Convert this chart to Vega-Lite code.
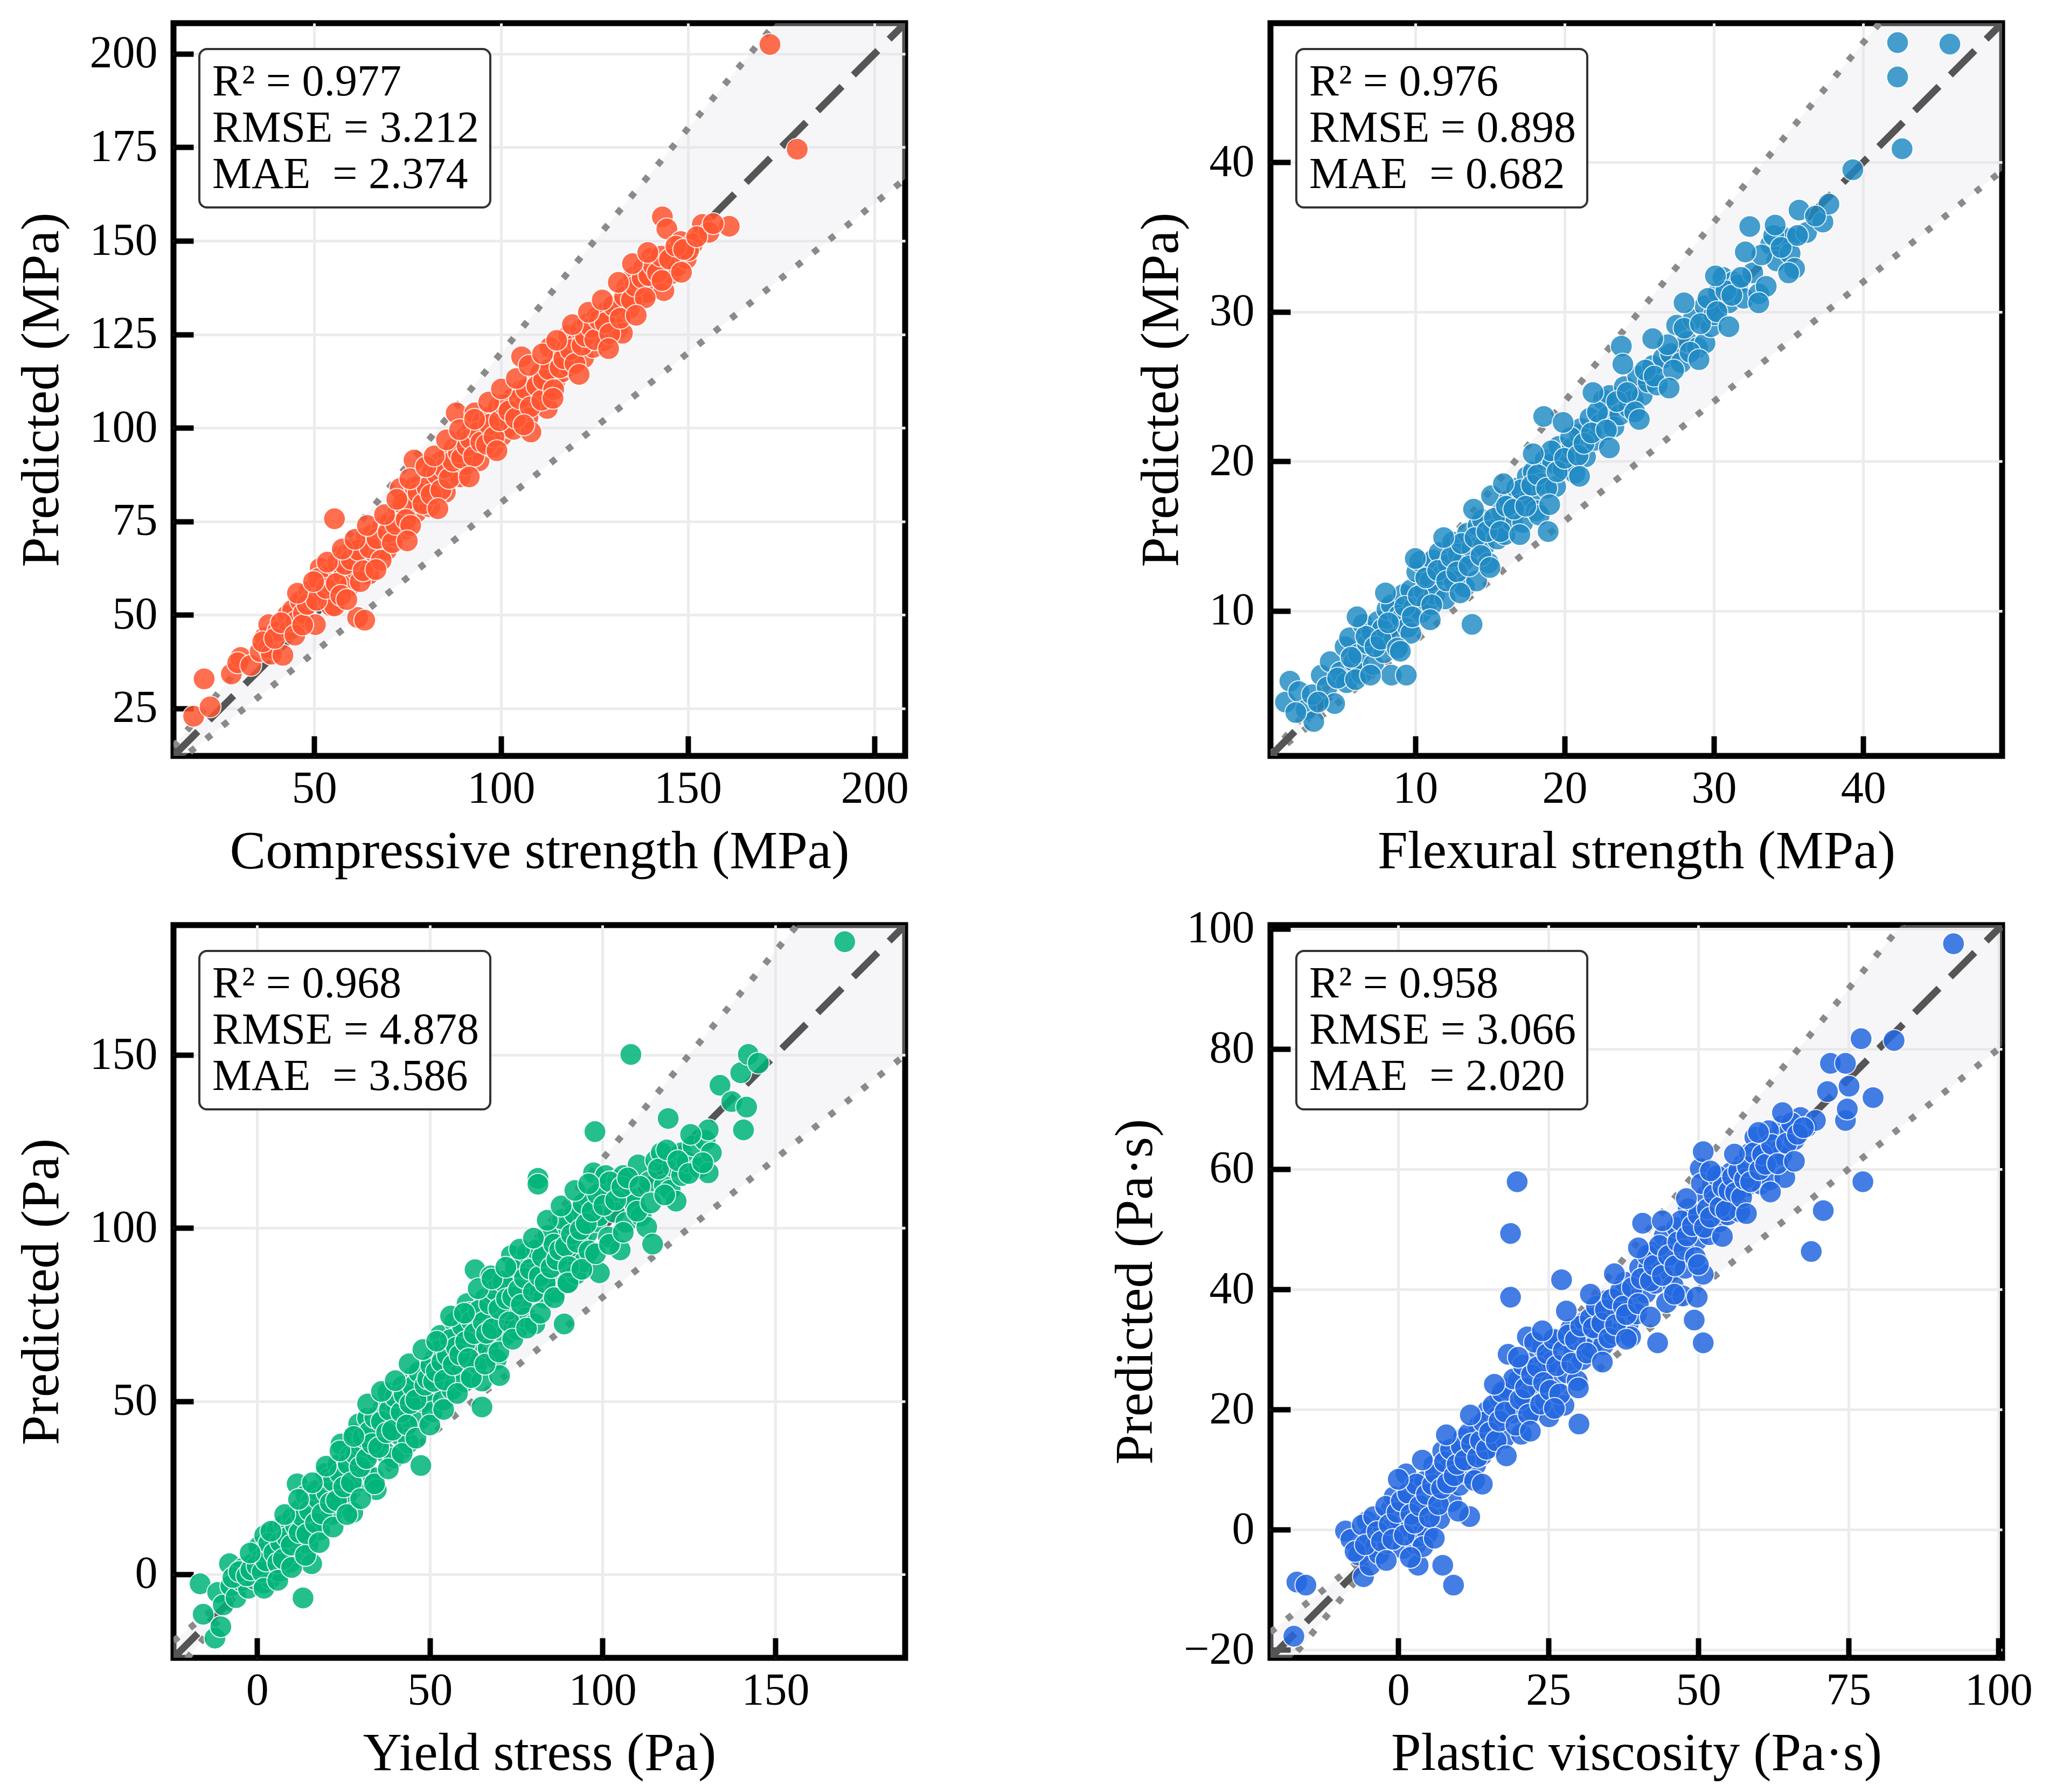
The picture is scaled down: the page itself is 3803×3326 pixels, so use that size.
{
  "$schema": "https://vega.github.io/schema/vega-lite/v6.json",
  "background": "white",
  "padding": {"left": 21, "top": 37, "right": 5, "bottom": 5},
  "columns": 2,
  "spacing": {"row": 40, "column": 360},
  "resolve": {"scale": {"color": "independent"}, "legend": {"color": "independent"}},
  "datasets": {
    "cs": [
      {"a":20.5,"p":32.9},{"a":17.7,"p":22.9},{"a":22.1,"p":25.4},{"a":27.8,"p":34.2},{"a":30.3,"p":38.6},{"a":29.5,"p":37.2},{"a":33,"p":36.5},{"a":35.5,"p":40.2},{"a":36.8,"p":44.1},{"a":37.8,"p":47.4},{"a":37.8,"p":41.1},{"a":38.5,"p":39.5},{"a":40.2,"p":45.6},{"a":41.6,"p":39.2},{"a":42.8,"p":49.9},{"a":43.5,"p":46.1},{"a":44.2,"p":51.3},{"a":45,"p":48.2},{"a":46.3,"p":53.7},{"a":47.1,"p":50.4},{"a":48.5,"p":56.2},{"a":49.2,"p":54.1},{"a":50.3,"p":47.4},{"a":51.6,"p":62.5},{"a":52.4,"p":58.3},{"a":52,"p":55.5},{"a":53.8,"p":60.9},{"a":54.5,"p":52.4},{"a":55.4,"p":75.7},{"a":55.4,"p":52.4},{"a":56.2,"p":63.8},{"a":57.9,"p":60.6},{"a":58.6,"p":66.2},{"a":59.5,"p":57.8},{"a":60.4,"p":67.5},{"a":61.2,"p":62.1},{"a":61.6,"p":49.3},{"a":63.5,"p":48.6},{"a":62.8,"p":64.4},{"a":63.9,"p":70.8},{"a":64.6,"p":60.9},{"a":65.4,"p":71.3},{"a":66.1,"p":66.7},{"a":67.5,"p":69.2},{"a":68.2,"p":73.5},{"a":69.4,"p":67.4},{"a":70.3,"p":74.9},{"a":71.2,"p":71.1},{"a":72.5,"p":77.6},{"a":73,"p":76.3},{"a":73,"p":83.8},{"a":74.2,"p":72.8},{"a":75.1,"p":79.5},{"a":76.7,"p":91.4},{"a":76.4,"p":81.2},{"a":77.3,"p":77.4},{"a":78,"p":80.1},{"a":78.8,"p":85.3},{"a":79.6,"p":82.7},{"a":80.5,"p":86.3},{"a":80.9,"p":78.9},{"a":81.7,"p":88.4},{"a":82.5,"p":84.5},{"a":83.4,"p":90.7},{"a":84.2,"p":86.2},{"a":85.1,"p":82.8},{"a":85.8,"p":92.3},{"a":86.6,"p":88.6},{"a":87.4,"p":94.5},{"a":88,"p":104},{"a":88.3,"p":90.8},{"a":89.1,"p":86.9},{"a":89.7,"p":96.2},{"a":90.5,"p":97.6},{"a":90.5,"p":90.1},{"a":91.3,"p":93.4},{"a":92.2,"p":99.8},{"a":93,"p":104},{"a":93.4,"p":95.1},{"a":94.1,"p":91.2},{"a":95,"p":101.6},{"a":95.5,"p":96.4},{"a":96.3,"p":98.7},{"a":97.1,"p":103.1},{"a":97.8,"p":94.8},{"a":98.6,"p":100.5},{"a":99.3,"p":105.6},{"a":100.5,"p":104},{"a":100.2,"p":97.9},{"a":101.1,"p":102.4},{"a":101.8,"p":100.2},{"a":102.6,"p":107.1},{"a":103,"p":107.7},{"a":103.4,"p":99.6},{"a":104.5,"p":104.8},{"a":105.5,"p":119},{"a":105.2,"p":109.9},{"a":106.3,"p":106.1},{"a":107.2,"p":102.7},{"a":108,"p":98.9},{"a":108.4,"p":111.8},{"a":109.1,"p":108.3},{"a":110.2,"p":113.7},{"a":110.6,"p":114.6},{"a":111.8,"p":109},{"a":112.4,"p":105.2},{"a":113.1,"p":121.5},{"a":113.6,"p":116.2},{"a":114.5,"p":112.6},{"a":115.3,"p":118.4},{"a":116.2,"p":114.9},{"a":117.4,"p":120.8},{"a":118.1,"p":124.7},{"a":118.1,"p":116.5},{"a":119.2,"p":119.3},{"a":120.4,"p":122.9},{"a":121.3,"p":126.1},{"a":122.1,"p":118.7},{"a":123.1,"p":127.8},{"a":123.8,"p":124.2},{"a":124.7,"p":121.5},{"a":125.6,"p":129.6},{"a":126.9,"p":126.5},{"a":127.5,"p":123.3},{"a":128.4,"p":131.2},{"a":129.6,"p":127.9},{"a":130.6,"p":130.3},{"a":131.2,"p":126.4},{"a":132.5,"p":125.3},{"a":132.8,"p":133.8},{"a":133.6,"p":137.5},{"a":134.4,"p":131.9},{"a":135.5,"p":140.3},{"a":136.9,"p":135.3},{"a":137.2,"p":138.6},{"a":138.1,"p":142.7},{"a":139,"p":136.1},{"a":140.2,"p":145.4},{"a":141.1,"p":139.2},{"a":142.3,"p":143.8},{"a":143.2,"p":156.4},{"a":143.6,"p":136.7},{"a":144.4,"p":153.2},{"a":144.4,"p":143.5},{"a":145.5,"p":141.2},{"a":146.3,"p":146.6},{"a":147.1,"p":143.1},{"a":148.2,"p":149.8},{"a":149.6,"p":145.2},{"a":151.3,"p":149.2},{"a":150.2,"p":147.4},{"a":153.9,"p":154.4},{"a":155.7,"p":152.3},{"a":161.1,"p":153.9},{"a":172,"p":202.5},{"a":179.3,"p":174.5},
      {"a":36.2,"p":42.8},{"a":39.4,"p":43.7},{"a":41.1,"p":47.9},{"a":44.8,"p":44.6},{"a":46.9,"p":47.3},{"a":48.1,"p":52.8},{"a":50.6,"p":53.9},{"a":51.1,"p":59.7},{"a":53.2,"p":57.1},{"a":55.9,"p":58.4},{"a":57.1,"p":55.2},{"a":58.2,"p":63.5},{"a":59.9,"p":64.8},{"a":61.8,"p":67.3},{"a":62.3,"p":58.9},{"a":63.1,"p":61.8},{"a":64.9,"p":67.9},{"a":66.8,"p":70.4},{"a":67.9,"p":64.6},{"a":69.8,"p":72.1},{"a":70.9,"p":69.3},{"a":71.8,"p":74.2},{"a":73.7,"p":79.8},{"a":74.6,"p":75.5},{"a":75.8,"p":73.9},{"a":76.9,"p":84.2},{"a":77.8,"p":82.6},{"a":79.1,"p":79.7},{"a":80.2,"p":84.1},{"a":81.3,"p":82.2},{"a":82.9,"p":87.6},{"a":83.9,"p":83.4},{"a":84.8,"p":89.3},{"a":86.1,"p":86.5},{"a":87.1,"p":91.1},{"a":88.6,"p":93.4},{"a":89.4,"p":91.9},{"a":90.9,"p":95.2},{"a":91.8,"p":97.1},{"a":92.7,"p":92.4},{"a":93.8,"p":98.9},{"a":94.6,"p":96.2},{"a":96.1,"p":95.6},{"a":96.8,"p":100.9},{"a":98.1,"p":97.6},{"a":99.6,"p":101.9},{"a":100.8,"p":106.2},{"a":102.1,"p":104.5},{"a":103.9,"p":102.6},{"a":104.9,"p":107.8},{"a":106.7,"p":110.4},{"a":107.8,"p":105.6},{"a":109.6,"p":111.2},{"a":110.9,"p":107.4},{"a":111.4,"p":112.9},{"a":112.8,"p":115.6},{"a":114.1,"p":110.2},{"a":115.8,"p":116.1},{"a":116.8,"p":118.5},{"a":118.6,"p":120.9},{"a":119.8,"p":117.2},{"a":121.7,"p":122.1},{"a":122.6,"p":124.5},{"a":124.2,"p":126.8},{"a":125.1,"p":123.6},{"a":126.3,"p":128.9},{"a":127.9,"p":128.1},{"a":129.1,"p":125.2},{"a":130.1,"p":132.6},{"a":131.9,"p":129.3},{"a":133.1,"p":135.1},{"a":134.9,"p":134.2},{"a":135.9,"p":137.9},{"a":137.8,"p":140.1},{"a":138.6,"p":134.8},{"a":139.6,"p":140.7},{"a":140.8,"p":143.4},{"a":141.9,"p":141.5},{"a":142.8,"p":145.9},{"a":145.1,"p":145.1},{"a":146.8,"p":148.6},{"a":148.9,"p":147.7},{"a":152.4,"p":151.1},{"a":156.8,"p":154.6},
      {"a":45.5,"p":55.8},{"a":49.8,"p":58.9},{"a":53.5,"p":64.1},{"a":57.5,"p":67.6},{"a":60.9,"p":70.2},{"a":64.2,"p":73.9},{"a":68.8,"p":76.8},{"a":72.1,"p":80.9},{"a":75.6,"p":86.4},{"a":79.9,"p":89.6},{"a":82.1,"p":92.5},{"a":85.4,"p":96.8},{"a":88.9,"p":99.5},{"a":92.9,"p":102.3},{"a":96.7,"p":106.9},{"a":100.1,"p":110.4},{"a":104.1,"p":113.2},{"a":107.5,"p":116.7},{"a":111.1,"p":119.8},{"a":114.9,"p":123.4},{"a":119.1,"p":127.6},{"a":123.4,"p":130.9},{"a":127.1,"p":134.2},{"a":131.4,"p":138.9},{"a":135.2,"p":143.9},{"a":139.3,"p":146.9},{"a":58.7,"p":54.1},{"a":66.5,"p":62.1},{"a":74.9,"p":69.8},{"a":83.1,"p":78.4},{"a":91.5,"p":86.9},{"a":98.9,"p":93.9},{"a":106.1,"p":100.8},{"a":113.9,"p":107.9},{"a":120.9,"p":114.3},{"a":128.8,"p":121.2},{"a":136.2,"p":130.1},{"a":143.1,"p":139.4},{"a":148.3,"p":141.6}
    ],
    "fs": [
      {"a":1.3,"p":3.9},{"a":1.6,"p":5.3},{"a":2.2,"p":4.6},{"a":2.7,"p":3.4},{"a":3.2,"p":2.6},{"a":3.1,"p":4.4},{"a":3.7,"p":5.7},{"a":4.1,"p":4.9},{"a":4.3,"p":6.6},{"a":4.6,"p":3.8},{"a":5.0,"p":5.9},{"a":5.3,"p":7.6},{"a":5.4,"p":5.2},{"a":5.6,"p":8.2},{"a":5.9,"p":6.6},{"a":6.2,"p":7.1},{"a":6.5,"p":9.1},{"a":6.4,"p":5.8},{"a":6.8,"p":7.8},{"a":7.1,"p":8.6},{"a":7.2,"p":6.4},{"a":7.5,"p":9.3},{"a":7.8,"p":8.8},{"a":7.9,"p":7.2},{"a":8.1,"p":10.1},{"a":8.4,"p":10.4},{"a":8.4,"p":5.7},{"a":8.6,"p":8.1},{"a":8.9,"p":9.7},{"a":9.1,"p":9.5},{"a":9.2,"p":11.1},{"a":9.4,"p":5.7},{"a":9.5,"p":8.9},{"a":9.7,"p":11.4},{"a":9.7,"p":8.5},{"a":9.9,"p":10.2},{"a":10.1,"p":12.6},{"a":10.3,"p":13.3},{"a":10.4,"p":9.9},{"a":10.6,"p":11.3},{"a":10.8,"p":10.5},{"a":11.0,"p":12.0},{"a":11.2,"p":13.4},{"a":11.3,"p":11.1},{"a":11.6,"p":13.9},{"a":11.8,"p":12.4},{"a":12.0,"p":10.8},{"a":12.2,"p":13.1},{"a":12.5,"p":14.6},{"a":12.6,"p":12.0},{"a":12.9,"p":13.8},{"a":13.2,"p":13.3},{"a":13.3,"p":11.6},{"a":13.5,"p":15.2},{"a":13.8,"p":9.1},{"a":13.8,"p":14.2},{"a":14.1,"p":12.0},{"a":14.2,"p":15.7},{"a":14.5,"p":16.1},{"a":14.6,"p":14.3},{"a":14.9,"p":13.2},{"a":15.1,"p":17.7},{"a":15.2,"p":15.4},{"a":15.5,"p":14.8},{"a":15.8,"p":16.6},{"a":16.0,"p":15.1},{"a":16.3,"p":17.4},{"a":16.5,"p":16.0},{"a":16.8,"p":18.2},{"a":17.0,"p":17.1},{"a":17.2,"p":15.9},{"a":17.5,"p":19.0},{"a":17.7,"p":17.6},{"a":17.9,"p":19.3},{"a":18.1,"p":16.7},{"a":18.3,"p":16.4},{"a":18.4,"p":18.5},{"a":18.6,"p":23.0},{"a":18.7,"p":20.1},{"a":18.9,"p":15.3},{"a":19.2,"p":19.9},{"a":19.4,"p":18.3},{"a":19.6,"p":21.0},{"a":19.9,"p":19.5},{"a":20.2,"p":20.6},{"a":20.5,"p":20.9},{"a":20.7,"p":19.2},{"a":21.0,"p":21.8},{"a":21.1,"p":22.2},{"a":21.4,"p":20.3},{"a":21.7,"p":22.9},{"a":22.0,"p":21.4},{"a":22.4,"p":22.5},{"a":22.6,"p":24.1},{"a":22.9,"p":23.0},{"a":23.0,"p":24.4},{"a":23.3,"p":22.3},{"a":23.7,"p":23.1},{"a":23.8,"p":27.7},{"a":24.0,"p":25.0},{"a":24.3,"p":23.6},{"a":24.6,"p":24.1},{"a":24.9,"p":25.7},{"a":25.2,"p":24.4},{"a":25.6,"p":25.3},{"a":25.9,"p":26.4},{"a":26.2,"p":25.1},{"a":26.6,"p":26.9},{"a":27.1,"p":27.2},{"a":27.5,"p":29.1},{"a":27.8,"p":26.6},{"a":28.2,"p":28.0},{"a":28.6,"p":29.5},{"a":28.9,"p":27.6},{"a":29.4,"p":30.4},{"a":29.4,"p":27.9},{"a":29.8,"p":29.0},{"a":30.0,"p":29.8},{"a":30.3,"p":31.3},{"a":30.6,"p":32.3},{"a":31.0,"p":30.6},{"a":31.3,"p":32.0},{"a":31.6,"p":31.8},{"a":32.0,"p":30.9},{"a":32.4,"p":35.7},{"a":32.6,"p":32.6},{"a":33.0,"p":31.2},{"a":33.5,"p":31.7},{"a":33.8,"p":34.5},{"a":34.2,"p":33.4},{"a":34.7,"p":35.0},{"a":35.1,"p":34.9},{"a":35.1,"p":33.9},{"a":35.4,"p":32.9},{"a":35.7,"p":36.8},{"a":36.2,"p":35.3},{"a":37.3,"p":36.0},{"a":37.7,"p":37.2},{"a":39.3,"p":39.5},{"a":42.3,"p":48.0},{"a":45.8,"p":47.9},{"a":42.3,"p":45.7},{"a":42.6,"p":40.9},
      {"a":2.0,"p":3.2},{"a":3.5,"p":3.9},{"a":4.8,"p":5.5},{"a":5.7,"p":6.9},{"a":6.0,"p":5.4},{"a":6.7,"p":8.3},{"a":7.3,"p":7.6},{"a":7.7,"p":8.1},{"a":8.2,"p":9.2},{"a":8.8,"p":7.5},{"a":9.3,"p":10.3},{"a":9.8,"p":9.6},{"a":10.2,"p":11.0},{"a":10.7,"p":12.2},{"a":11.1,"p":10.4},{"a":11.5,"p":12.7},{"a":12.1,"p":12.0},{"a":12.4,"p":13.6},{"a":12.8,"p":12.6},{"a":13.1,"p":14.5},{"a":13.6,"p":13.0},{"a":14.0,"p":14.9},{"a":14.4,"p":13.7},{"a":14.8,"p":15.3},{"a":15.3,"p":16.2},{"a":15.7,"p":15.3},{"a":16.1,"p":17.0},{"a":16.6,"p":16.8},{"a":17.1,"p":18.1},{"a":17.4,"p":17.0},{"a":17.8,"p":18.4},{"a":18.2,"p":19.1},{"a":18.8,"p":18.2},{"a":19.1,"p":20.7},{"a":19.5,"p":19.3},{"a":20.0,"p":20.2},{"a":20.4,"p":21.6},{"a":20.9,"p":20.4},{"a":21.3,"p":21.2},{"a":21.8,"p":21.9},{"a":22.2,"p":23.3},{"a":22.8,"p":22.1},{"a":23.5,"p":24.0},{"a":24.2,"p":24.6},{"a":24.7,"p":23.3},{"a":25.4,"p":26.1},{"a":26.0,"p":25.7},{"a":26.9,"p":27.8},{"a":27.3,"p":26.1},{"a":28.0,"p":28.9},{"a":28.4,"p":27.3},{"a":29.1,"p":29.2},{"a":29.6,"p":30.9},{"a":30.2,"p":30.0},{"a":30.8,"p":31.4},{"a":31.2,"p":31.1},{"a":31.8,"p":32.3},{"a":33.2,"p":33.8},{"a":34.0,"p":35.1},{"a":34.5,"p":34.3},{"a":35.6,"p":35.1},{"a":36.8,"p":36.4},
      {"a":6.1,"p":9.6},{"a":8.0,"p":11.2},{"a":10.0,"p":13.5},{"a":11.9,"p":14.9},{"a":13.9,"p":16.8},{"a":15.9,"p":18.5},{"a":17.9,"p":20.5},{"a":19.9,"p":22.6},{"a":21.9,"p":24.6},{"a":23.9,"p":26.5},{"a":25.9,"p":28.2},{"a":28.0,"p":30.6},{"a":30.1,"p":32.4},{"a":32.1,"p":34.0},{"a":34.1,"p":35.8},{"a":7.0,"p":5.7},{"a":9.0,"p":7.3},{"a":11.0,"p":9.4},{"a":13.0,"p":11.2},{"a":15.0,"p":12.9},{"a":17.0,"p":15.1},{"a":19.0,"p":17.1},{"a":21.0,"p":19.0},{"a":23.0,"p":20.9},{"a":25.0,"p":22.8},{"a":27.0,"p":24.9},{"a":29.0,"p":26.8},{"a":31.0,"p":29.0},{"a":33.0,"p":30.6},{"a":35.0,"p":32.6}
    ],
    "ys": [
      {"a":-16.5,"p":-2.8},{"a":-15.6,"p":-11.6},{"a":-12.2,"p":-18.5},{"a":-11.4,"p":-5.3},{"a":-10.5,"p":-15.2},{"a":-9.8,"p":-8.9},{"a":-8.0,"p":3.0},{"a":-7.6,"p":-3.4},{"a":-6.1,"p":-6.8},{"a":-4.6,"p":-2.0},{"a":-3.9,"p":1.8},{"a":-2.5,"p":-4.1},{"a":-1.2,"p":3.0},{"a":-0.6,"p":-1.5},{"a":0.5,"p":7.9},{"a":1.1,"p":4.2},{"a":1.8,"p":-2.6},{"a":2.2,"p":11.2},{"a":2.9,"p":6.5},{"a":3.9,"p":-1.2},{"a":4.4,"p":2.9},{"a":5.2,"p":9.7},{"a":5.8,"p":12.8},{"a":6.5,"p":0.8},{"a":7.1,"p":5.6},{"a":7.8,"p":14.3},{"a":8.3,"p":8.1},{"a":9.0,"p":12.9},{"a":9.6,"p":3.4},{"a":10.2,"p":16.2},{"a":10.7,"p":6.3},{"a":11.6,"p":26.1},{"a":11.9,"p":10.4},{"a":12.5,"p":18.7},{"a":13.3,"p":-6.9},{"a":13.7,"p":13.5},{"a":14.1,"p":22.8},{"a":14.8,"p":8.6},{"a":15.8,"p":3.0},{"a":15.8,"p":21.1},{"a":16.4,"p":16.9},{"a":17.3,"p":24.3},{"a":18.1,"p":12.7},{"a":19.2,"p":19.5},{"a":19.9,"p":29.1},{"a":20.9,"p":27.7},{"a":21.6,"p":17.2},{"a":22.5,"p":23.8},{"a":23.4,"p":31.6},{"a":24.3,"p":37.6},{"a":24.8,"p":20.4},{"a":25.6,"p":28.8},{"a":26.0,"p":22.8},{"a":26.9,"p":34.1},{"a":27.7,"p":17.8},{"a":28.3,"p":40.5},{"a":28.9,"p":26.7},{"a":29.4,"p":43.4},{"a":30.2,"p":33.2},{"a":31.1,"p":37.6},{"a":31.1,"p":29.4},{"a":32.0,"p":45.1},{"a":32.8,"p":35.8},{"a":33.7,"p":27.9},{"a":34.5,"p":42.6},{"a":34.5,"p":24.4},{"a":35.6,"p":39.1},{"a":36.4,"p":47.8},{"a":37.1,"p":35.1},{"a":37.9,"p":52.5},{"a":38.7,"p":43.9},{"a":39.6,"p":33.6},{"a":40.4,"p":48.6},{"a":41.3,"p":40.2},{"a":42.1,"p":54.3},{"a":43.0,"p":45.4},{"a":43.8,"p":37.9},{"a":44.7,"p":51.2},{"a":45.5,"p":57.3},{"a":46.4,"p":55.8},{"a":47.1,"p":44.6},{"a":47.4,"p":31.4},{"a":48.2,"p":49.8},{"a":49.0,"p":59.6},{"a":49.8,"p":52.5},{"a":50.7,"p":46.9},{"a":51.5,"p":62.4},{"a":52.2,"p":55.1},{"a":53.0,"p":69.0},{"a":53.9,"p":50.3},{"a":54.7,"p":58.7},{"a":55.5,"p":65.2},{"a":56.4,"p":53.4},{"a":57.2,"p":72.8},{"a":58.3,"p":69.0},{"a":58.3,"p":59.1},{"a":59.1,"p":62.7},{"a":60.0,"p":55.6},{"a":60.8,"p":78.2},{"a":61.7,"p":75.6},{"a":62.5,"p":66.4},{"a":63.1,"p":88.0},{"a":63.8,"p":60.9},{"a":64.6,"p":71.5},{"a":65.1,"p":55.8},{"a":65.1,"p":48.3},{"a":66.0,"p":79.6},{"a":66.9,"p":65.4},{"a":67.7,"p":86.2},{"a":68.5,"p":73.4},{"a":69.3,"p":62.1},{"a":70.2,"p":57.4},{"a":70.8,"p":80.8},{"a":71.9,"p":69.0},{"a":72.6,"p":76.5},{"a":73.6,"p":92.1},{"a":74.4,"p":84.7},{"a":75.3,"p":70.6},{"a":76.1,"p":88.3},{"a":77.0,"p":79.1},{"a":77.8,"p":74.2},{"a":78.7,"p":91.6},{"a":79.5,"p":83.5},{"a":80.4,"p":72.3},{"a":81.3,"p":114.4},{"a":81.3,"p":112.7},{"a":82.1,"p":88.8},{"a":83.0,"p":79.8},{"a":83.8,"p":95.1},{"a":84.6,"p":85.9},{"a":85.5,"p":92.1},{"a":86.3,"p":81.4},{"a":87.2,"p":99.4},{"a":88.0,"p":89.6},{"a":88.9,"p":97.0},{"a":88.9,"p":72.3},{"a":89.7,"p":84.2},{"a":90.6,"p":101.3},{"a":91.4,"p":93.5},{"a":92.3,"p":86.7},{"a":93.1,"p":104.8},{"a":94.0,"p":96.9},{"a":94.8,"p":90.3},{"a":95.7,"p":98.7},{"a":96.5,"p":108.6},{"a":97.4,"p":116.0},{"a":97.8,"p":127.9},{"a":98.2,"p":101.9},{"a":99.1,"p":103.6},{"a":99.1,"p":87.1},{"a":99.9,"p":111.3},{"a":100.9,"p":115.2},{"a":101.7,"p":97.4},{"a":102.6,"p":110.2},{"a":103.4,"p":104.6},{"a":104.3,"p":113.8},{"a":105.1,"p":93.7},{"a":106.0,"p":115.2},{"a":106.8,"p":101.7},{"a":107.7,"p":108.9},{"a":108.2,"p":150.2},{"a":109.4,"p":106.9},{"a":110.3,"p":118.3},{"a":111.2,"p":103.5},{"a":112.8,"p":100.3},{"a":113.6,"p":113.5},{"a":114.5,"p":95.4},{"a":115.4,"p":119.6},{"a":117.0,"p":121.8},{"a":117.9,"p":112.4},{"a":119.0,"p":131.7},{"a":119.6,"p":111.0},{"a":120.4,"p":117.8},{"a":121.3,"p":107.8},{"a":122.9,"p":121.8},{"a":122.9,"p":115.2},{"a":124.5,"p":119.1},{"a":126.2,"p":123.8},{"a":128.0,"p":117.5},{"a":129.7,"p":125.4},{"a":130.6,"p":128.4},{"a":131.5,"p":121.8},{"a":130.6,"p":116.0},{"a":134.0,"p":141.3},{"a":137.4,"p":136.6},{"a":140.0,"p":144.9},{"a":140.8,"p":128.4},{"a":141.7,"p":135.0},{"a":142.2,"p":150.2},{"a":145.1,"p":147.7},{"a":170.1,"p":182.8},
      {"a":-7.0,"p":-1.0},{"a":-5.2,"p":0.7},{"a":-3.0,"p":-0.5},{"a":-1.8,"p":1.2},{"a":0.0,"p":2.4},{"a":1.5,"p":0.6},{"a":2.6,"p":3.8},{"a":3.4,"p":8.9},{"a":4.9,"p":6.1},{"a":6.0,"p":3.2},{"a":6.8,"p":9.2},{"a":7.6,"p":4.4},{"a":8.7,"p":10.6},{"a":9.9,"p":8.4},{"a":11.1,"p":14.1},{"a":12.2,"p":12.0},{"a":13.0,"p":16.8},{"a":14.4,"p":11.6},{"a":15.2,"p":18.3},{"a":16.9,"p":14.8},{"a":17.8,"p":21.7},{"a":18.8,"p":17.4},{"a":20.2,"p":23.6},{"a":21.2,"p":20.6},{"a":22.0,"p":26.9},{"a":23.0,"p":21.3},{"a":24.0,"p":29.1},{"a":25.1,"p":25.2},{"a":26.4,"p":31.8},{"a":27.3,"p":26.5},{"a":28.6,"p":34.5},{"a":29.8,"p":31.0},{"a":30.7,"p":39.6},{"a":31.7,"p":33.4},{"a":32.5,"p":41.2},{"a":33.3,"p":37.7},{"a":34.1,"p":45.2},{"a":35.2,"p":36.6},{"a":36.0,"p":44.1},{"a":37.5,"p":40.9},{"a":38.3,"p":47.4},{"a":39.2,"p":41.6},{"a":40.0,"p":51.2},{"a":41.7,"p":46.8},{"a":42.6,"p":51.9},{"a":43.4,"p":43.1},{"a":44.3,"p":49.3},{"a":45.1,"p":54.2},{"a":46.0,"p":50.4},{"a":46.8,"p":58.4},{"a":48.6,"p":54.6},{"a":49.4,"p":56.5},{"a":50.3,"p":60.3},{"a":51.1,"p":55.7},{"a":51.9,"p":58.6},{"a":52.6,"p":64.6},{"a":53.5,"p":61.3},{"a":54.3,"p":56.1},{"a":55.1,"p":63.2},{"a":56.0,"p":67.8},{"a":56.8,"p":60.5},{"a":57.7,"p":65.6},{"a":58.7,"p":63.4},{"a":59.5,"p":71.6},{"a":60.4,"p":67.2},{"a":61.2,"p":62.3},{"a":62.1,"p":73.1},{"a":62.9,"p":69.5},{"a":64.2,"p":76.2},{"a":65.5,"p":72.8},{"a":66.4,"p":69.6},{"a":67.3,"p":78.1},{"a":68.1,"p":70.9},{"a":68.9,"p":82.1},{"a":70.0,"p":76.7},{"a":71.1,"p":84.6},{"a":72.2,"p":79.6},{"a":73.0,"p":72.9},{"a":74.0,"p":80.1},{"a":74.8,"p":88.8},{"a":75.7,"p":82.2},{"a":76.5,"p":77.9},{"a":77.4,"p":85.6},{"a":78.2,"p":92.8},{"a":79.1,"p":88.1},{"a":80.0,"p":81.6},{"a":80.9,"p":93.8},{"a":81.7,"p":86.1},{"a":82.6,"p":91.7},{"a":83.4,"p":84.2},{"a":84.2,"p":97.9},{"a":85.1,"p":88.6},{"a":85.9,"p":95.4},{"a":86.8,"p":90.9},{"a":87.6,"p":93.7},{"a":88.4,"p":102.6},{"a":89.3,"p":94.8},{"a":90.2,"p":88.9},{"a":91.0,"p":98.2},{"a":91.9,"p":104.2},{"a":92.7,"p":95.9},{"a":93.6,"p":99.6},{"a":94.4,"p":107.1},{"a":95.3,"p":101.3},{"a":96.1,"p":93.4},{"a":97.0,"p":104.9},{"a":98.6,"p":109.8},{"a":100.4,"p":106.6},{"a":102.1,"p":113.4},{"a":103.8,"p":108.1},{"a":105.6,"p":111.9},{"a":107.3,"p":114.5},{"a":110.8,"p":112.1},{"a":116.2,"p":117.1},{"a":118.6,"p":122.6},{"a":121.8,"p":119.5},{"a":125.5,"p":127.1},
      {"a":-2.0,"p":6.1},{"a":4.0,"p":12.4},{"a":8.0,"p":17.2},{"a":12.0,"p":21.6},{"a":16.0,"p":26.4},{"a":20.0,"p":31.2},{"a":24.0,"p":35.6},{"a":28.0,"p":39.8},{"a":32.0,"p":49.2},{"a":36.0,"p":52.8},{"a":40.0,"p":55.9},{"a":44.0,"p":60.8},{"a":48.0,"p":64.9},{"a":52.0,"p":67.3},{"a":56.0,"p":74.6},{"a":60.0,"p":75.4},{"a":64.0,"p":82.5},{"a":68.0,"p":85.3},{"a":72.0,"p":88.7},{"a":76.0,"p":93.9},{"a":80.0,"p":97.1},{"a":84.0,"p":102.3},{"a":88.0,"p":106.4},{"a":92.0,"p":110.9},{"a":96.0,"p":112.8},{"a":2.0,"p":-4.1},{"a":6.0,"p":-1.8},{"a":10.0,"p":1.9},{"a":14.0,"p":5.4},{"a":18.0,"p":9.1},{"a":22.0,"p":13.6},{"a":26.0,"p":17.2},{"a":30.0,"p":21.8},{"a":34.0,"p":26.1},{"a":38.0,"p":30.4},{"a":42.0,"p":34.9},{"a":46.0,"p":39.3},{"a":50.0,"p":43.1},{"a":54.0,"p":47.6},{"a":58.0,"p":52.2},{"a":62.0,"p":56.8},{"a":66.0,"p":60.7},{"a":70.0,"p":64.2},{"a":74.0,"p":67.9},{"a":78.0,"p":71.1},{"a":82.0,"p":75.4},{"a":86.0,"p":79.9},{"a":90.0,"p":84.2},{"a":94.0,"p":88.1},{"a":98.0,"p":92.6},{"a":102.0,"p":95.3},{"a":106.0,"p":98.8},{"a":110.0,"p":104.9},{"a":114.0,"p":107.3},{"a":118.0,"p":109.6},{"a":125.0,"p":115.8},{"a":129.0,"p":118.9}
    ],
    "pv": [
      {"a":-17.4,"p":-17.7},{"a":-16.9,"p":-8.7},{"a":-15.4,"p":-9.2},{"a":-8.8,"p":-0.2},{"a":-7.9,"p":-1.6},{"a":-6.6,"p":-4.2},{"a":-5.8,"p":-7.8},{"a":-5.2,"p":1.4},{"a":-4.7,"p":-1.1},{"a":-4.7,"p":-5.9},{"a":-3.8,"p":-2.9},{"a":-3.2,"p":-4.0},{"a":-2.5,"p":0.6},{"a":-1.8,"p":-2.2},{"a":-1.2,"p":3.4},{"a":-0.7,"p":5.5},{"a":-0.3,"p":-0.8},{"a":0.3,"p":1.7},{"a":0.8,"p":-3.1},{"a":1.3,"p":9.3},{"a":1.3,"p":3.6},{"a":1.9,"p":0.4},{"a":2.4,"p":6.8},{"a":2.9,"p":-2.4},{"a":3.3,"p":5.5},{"a":3.3,"p":-1.1},{"a":3.3,"p":-5.9},{"a":3.8,"p":2.3},{"a":4.4,"p":8.1},{"a":4.9,"p":-0.6},{"a":5.5,"p":4.3},{"a":5.9,"p":10.7},{"a":6.4,"p":6.5},{"a":6.9,"p":1.8},{"a":7.4,"p":13.1},{"a":7.4,"p":-5.9},{"a":7.9,"p":8.6},{"a":8.4,"p":10.2},{"a":8.9,"p":4.7},{"a":9.2,"p":-9.2},{"a":9.6,"p":12.0},{"a":10.2,"p":7.4},{"a":10.8,"p":15.2},{"a":11.4,"p":9.3},{"a":11.9,"p":2.2},{"a":12.4,"p":13.1},{"a":12.9,"p":10.8},{"a":13.4,"p":17.3},{"a":13.9,"p":12.4},{"a":14.4,"p":15.0},{"a":14.9,"p":19.8},{"a":15.5,"p":13.7},{"a":16.0,"p":16.9},{"a":16.5,"p":18.8},{"a":17.0,"p":21.9},{"a":17.6,"p":15.2},{"a":18.1,"p":23.5},{"a":18.3,"p":29.2},{"a":18.7,"p":49.3},{"a":18.7,"p":38.7},{"a":18.9,"p":19.4},{"a":19.5,"p":20.7},{"a":19.8,"p":57.9},{"a":20.0,"p":24.8},{"a":20.5,"p":15.9},{"a":21.0,"p":22.1},{"a":21.5,"p":32.1},{"a":21.9,"p":26.3},{"a":22.4,"p":19.6},{"a":22.9,"p":28.2},{"a":23.4,"p":23.7},{"a":24.0,"p":30.4},{"a":24.5,"p":26.4},{"a":24.5,"p":21.6},{"a":25.1,"p":18.8},{"a":25.6,"p":27.9},{"a":26.2,"p":24.2},{"a":26.7,"p":31.5},{"a":27.2,"p":41.6},{"a":27.6,"p":20.7},{"a":28.1,"p":26.1},{"a":28.7,"p":33.4},{"a":29.2,"p":29.7},{"a":29.8,"p":24.8},{"a":30.1,"p":17.6},{"a":30.6,"p":28.3},{"a":31.1,"p":34.6},{"a":31.6,"p":32.1},{"a":32.2,"p":30.2},{"a":32.8,"p":36.1},{"a":33.3,"p":33.1},{"a":33.6,"p":35.9},{"a":34.2,"p":30.8},{"a":34.8,"p":38.2},{"a":35.3,"p":35.0},{"a":35.9,"p":32.6},{"a":36.7,"p":38.7},{"a":37.2,"p":36.1},{"a":37.8,"p":41.2},{"a":38.3,"p":34.2},{"a":38.7,"p":32.1},{"a":39.3,"p":38.3},{"a":39.7,"p":35.9},{"a":40.2,"p":43.6},{"a":40.7,"p":51.0},{"a":41.2,"p":39.4},{"a":41.7,"p":43.5},{"a":42.3,"p":46.2},{"a":42.8,"p":41.0},{"a":43.2,"p":31.1},{"a":43.8,"p":44.8},{"a":44.3,"p":48.9},{"a":44.7,"p":37.8},{"a":45.3,"p":42.9},{"a":45.8,"p":47.2},{"a":45.8,"p":40.6},{"a":46.4,"p":50.3},{"a":46.9,"p":45.1},{"a":47.4,"p":38.9},{"a":47.8,"p":43.5},{"a":48.3,"p":53.4},{"a":48.8,"p":52.0},{"a":49.3,"p":34.9},{"a":49.8,"p":38.7},{"a":49.8,"p":48.2},{"a":50.3,"p":60.1},{"a":50.8,"p":62.9},{"a":50.8,"p":42.5},{"a":50.8,"p":31.1},{"a":51.3,"p":55.6},{"a":51.8,"p":49.1},{"a":52.3,"p":57.3},{"a":52.8,"p":54.8},{"a":53.4,"p":51.2},{"a":53.9,"p":58.6},{"a":54.4,"p":55.0},{"a":54.9,"p":52.4},{"a":55.4,"p":59.4},{"a":55.9,"p":57.7},{"a":56.4,"p":54.0},{"a":56.9,"p":52.9},{"a":57.4,"p":60.8},{"a":57.9,"p":57.1},{"a":58.5,"p":62.6},{"a":59.0,"p":59.3},{"a":59.4,"p":65.3},{"a":59.9,"p":61.4},{"a":60.4,"p":57.5},{"a":60.9,"p":60.5},{"a":61.4,"p":63.7},{"a":61.9,"p":58.2},{"a":62.4,"p":61.9},{"a":62.9,"p":65.3},{"a":63.4,"p":63.0},{"a":63.9,"p":67.2},{"a":63.9,"p":62.4},{"a":64.4,"p":58.6},{"a":65.0,"p":66.1},{"a":66.0,"p":64.9},{"a":67.0,"p":68.6},{"a":68.0,"p":67.0},{"a":68.8,"p":46.3},{"a":69.5,"p":68.1},{"a":70.8,"p":53.1},{"a":71.5,"p":72.9},{"a":72.0,"p":77.6},{"a":74.5,"p":77.6},{"a":74.5,"p":68.1},{"a":74.8,"p":70.0},{"a":75.1,"p":73.8},{"a":77.1,"p":81.7},{"a":77.4,"p":57.9},{"a":79.1,"p":71.9},{"a":82.6,"p":81.4},{"a":92.5,"p":97.5},
      {"a":-7.2,"p":-3.6},{"a":-6.0,"p":0.8},{"a":-5.5,"p":-2.5},{"a":-4.1,"p":2.2},{"a":-3.5,"p":-0.3},{"a":-2.8,"p":-1.9},{"a":-2.1,"p":3.9},{"a":-1.5,"p":0.9},{"a":-0.9,"p":-1.6},{"a":-0.2,"p":2.9},{"a":0.5,"p":4.8},{"a":1.0,"p":-0.9},{"a":1.6,"p":6.1},{"a":2.1,"p":2.6},{"a":2.7,"p":1.1},{"a":3.0,"p":7.6},{"a":3.6,"p":4.0},{"a":4.1,"p":-2.8},{"a":4.7,"p":5.9},{"a":5.2,"p":2.1},{"a":5.7,"p":7.5},{"a":6.2,"p":9.4},{"a":6.7,"p":4.2},{"a":7.2,"p":6.9},{"a":7.7,"p":11.3},{"a":8.2,"p":7.8},{"a":8.7,"p":13.4},{"a":9.3,"p":9.0},{"a":9.8,"p":10.9},{"a":10.5,"p":13.9},{"a":11.1,"p":11.6},{"a":11.7,"p":16.0},{"a":12.2,"p":14.3},{"a":12.7,"p":8.2},{"a":13.2,"p":12.1},{"a":13.7,"p":14.8},{"a":14.2,"p":17.9},{"a":14.7,"p":13.4},{"a":15.2,"p":16.2},{"a":15.8,"p":20.7},{"a":16.3,"p":14.8},{"a":16.8,"p":18.1},{"a":17.3,"p":22.9},{"a":17.8,"p":19.6},{"a":19.2,"p":25.1},{"a":19.6,"p":17.4},{"a":20.3,"p":21.7},{"a":20.8,"p":27.4},{"a":21.2,"p":23.6},{"a":21.7,"p":19.2},{"a":22.2,"p":25.8},{"a":22.7,"p":31.2},{"a":23.2,"p":27.1},{"a":23.7,"p":20.9},{"a":24.2,"p":24.5},{"a":24.8,"p":29.3},{"a":25.3,"p":23.2},{"a":25.9,"p":31.7},{"a":26.4,"p":27.3},{"a":26.9,"p":22.6},{"a":27.5,"p":29.8},{"a":28.3,"p":32.4},{"a":28.9,"p":27.7},{"a":29.5,"p":31.6},{"a":30.4,"p":33.9},{"a":31.4,"p":29.4},{"a":32.0,"p":35.2},{"a":32.5,"p":33.6},{"a":33.0,"p":37.2},{"a":33.9,"p":34.4},{"a":34.5,"p":36.6},{"a":35.1,"p":31.9},{"a":35.6,"p":38.4},{"a":36.2,"p":34.1},{"a":37.0,"p":39.7},{"a":37.5,"p":37.2},{"a":38.0,"p":35.8},{"a":39.0,"p":40.3},{"a":40.0,"p":37.6},{"a":40.5,"p":41.8},{"a":41.5,"p":45.7},{"a":42.0,"p":41.4},{"a":42.6,"p":44.0},{"a":43.5,"p":47.3},{"a":44.0,"p":42.3},{"a":45.0,"p":45.6},{"a":46.1,"p":43.9},{"a":46.6,"p":47.9},{"a":47.1,"p":51.4},{"a":47.6,"p":46.6},{"a":48.1,"p":48.9},{"a":49.0,"p":50.6},{"a":49.5,"p":45.3},{"a":50.0,"p":52.4},{"a":50.5,"p":57.6},{"a":51.0,"p":50.3},{"a":51.5,"p":53.4},{"a":52.0,"p":52.0},{"a":52.6,"p":55.8},{"a":53.1,"p":58.9},{"a":53.6,"p":53.7},{"a":54.1,"p":57.0},{"a":54.6,"p":53.1},{"a":55.1,"p":56.4},{"a":55.7,"p":58.7},{"a":56.2,"p":56.1},{"a":56.7,"p":59.7},{"a":57.2,"p":55.3},{"a":57.7,"p":58.3},{"a":58.2,"p":60.4},{"a":58.7,"p":57.9},{"a":59.2,"p":62.7},{"a":60.2,"p":59.9},{"a":60.7,"p":62.4},{"a":61.2,"p":60.8},{"a":61.7,"p":66.4},{"a":62.2,"p":64.1},{"a":63.2,"p":60.9},{"a":64.7,"p":64.3},{"a":65.5,"p":67.7},{"a":66.5,"p":65.8},{"a":67.5,"p":66.9},
      {"a":0.0,"p":8.4},{"a":4.0,"p":11.6},{"a":8.0,"p":15.8},{"a":12.0,"p":19.1},{"a":16.0,"p":24.2},{"a":20.0,"p":28.7},{"a":24.0,"p":33.1},{"a":28.0,"p":36.4},{"a":32.0,"p":39.2},{"a":36.0,"p":42.6},{"a":40.0,"p":46.9},{"a":44.0,"p":51.4},{"a":48.0,"p":55.1},{"a":52.0,"p":59.7},{"a":56.0,"p":62.5},{"a":60.0,"p":66.1},{"a":64.0,"p":69.4},{"a":-2.0,"p":-5.1},{"a":2.0,"p":-4.6},{"a":6.0,"p":-1.4},{"a":10.0,"p":3.1},{"a":14.0,"p":7.6},{"a":18.0,"p":12.3},{"a":22.0,"p":16.4},{"a":26.0,"p":20.2},{"a":30.0,"p":23.6},{"a":34.0,"p":27.9},{"a":38.0,"p":31.7},{"a":42.0,"p":35.4},{"a":46.0,"p":39.2},{"a":50.0,"p":44.1},{"a":54.0,"p":48.8},{"a":58.0,"p":52.6},{"a":62.0,"p":56.2},{"a":66.0,"p":61.3}
    ]
  },
  "concat": [
    {
      "width": 1358,
      "height": 1360,
      "layer": [
        {
          "data": {"values": [{"a": 12.3, "lo": 9.84, "hi": 14.76}, {"a": 208.2, "lo": 166.56, "hi": 249.84}]},
          "mark": {"type": "area", "fill": "#e4e4ee", "opacity": 0.35, "clip": true},
          "encoding": {
            "x": {"field": "a", "type": "quantitative", "scale": {"domain": [12.3, 208.2], "nice": false, "zero": false}, "axis": {"values": [50, 100, 150, 200], "title": "Compressive strength (MPa)"}},
            "y": {"field": "lo", "type": "quantitative", "scale": {"domain": [12.3, 208.2], "nice": false, "zero": false}, "axis": {"values": [25, 50, 75, 100, 125, 150, 175, 200], "title": "Predicted (MPa)"}},
            "y2": {"field": "hi"}
          }
        },
        {
          "data": {"values": [{"a": 12.3, "p": 14.76, "a2": 208.2, "p2": 249.84}, {"a": 12.3, "p": 9.84, "a2": 208.2, "p2": 166.56}]},
          "mark": {"type": "rule", "color": "#8a8a8a", "strokeWidth": 12, "strokeDash": [12, 27], "clip": true},
          "encoding": {"x": {"field": "a", "type": "quantitative"}, "y": {"field": "p", "type": "quantitative"}, "x2": {"field": "a2"}, "y2": {"field": "p2"}}
        },
        {
          "data": {"values": [{"a": 12.3, "p": 12.3, "a2": 208.2, "p2": 208.2}]},
          "mark": {"type": "rule", "color": "#555555", "strokeWidth": 13, "strokeDash": [64, 30], "clip": true},
          "encoding": {"x": {"field": "a", "type": "quantitative"}, "y": {"field": "p", "type": "quantitative"}, "x2": {"field": "a2"}, "y2": {"field": "p2"}}
        },
        {
          "data": {"name": "cs"},
          "mark": {"type": "circle", "size": 1650, "fill": "#ff5530", "opacity": 0.85, "stroke": "white", "strokeWidth": 2, "clip": true},
          "encoding": {"x": {"field": "a", "type": "quantitative"}, "y": {"field": "p", "type": "quantitative"}}
        },
        {
          "data": {"values": [{"s": "R² = 0.977"}, {"s": "RMSE = 3.212"}, {"s": "MAE  = 2.374"}]},
          "mark": {"type": "point", "opacity": 0},
          "encoding": {"color": {"field": "s", "type": "nominal", "scale": {"domain": ["R² = 0.977", "RMSE = 3.212", "MAE  = 2.374"], "range": ["black", "black", "black"]}, "legend": {"title": null, "labelExpr": "replace(datum.label, '  ', '\u00a0 ')"}}}
        }
      ]
    },
    {
      "width": 1358,
      "height": 1360,
      "layer": [
        {
          "data": {"values": [{"a": 0.3, "lo": 0.24, "hi": 0.36}, {"a": 49.3, "lo": 39.44, "hi": 59.16}]},
          "mark": {"type": "area", "fill": "#e4e4ee", "opacity": 0.35, "clip": true},
          "encoding": {
            "x": {"field": "a", "type": "quantitative", "scale": {"domain": [0.3, 49.3], "nice": false, "zero": false}, "axis": {"values": [10, 20, 30, 40], "title": "Flexural strength (MPa)"}},
            "y": {"field": "lo", "type": "quantitative", "scale": {"domain": [0.3, 49.3], "nice": false, "zero": false}, "axis": {"values": [10, 20, 30, 40], "title": "Predicted (MPa)"}},
            "y2": {"field": "hi"}
          }
        },
        {
          "data": {"values": [{"a": 0.3, "p": 0.36, "a2": 49.3, "p2": 59.16}, {"a": 0.3, "p": 0.24, "a2": 49.3, "p2": 39.44}]},
          "mark": {"type": "rule", "color": "#8a8a8a", "strokeWidth": 12, "strokeDash": [12, 27], "clip": true},
          "encoding": {"x": {"field": "a", "type": "quantitative"}, "y": {"field": "p", "type": "quantitative"}, "x2": {"field": "a2"}, "y2": {"field": "p2"}}
        },
        {
          "data": {"values": [{"a": 0.3, "p": 0.3, "a2": 49.3, "p2": 49.3}]},
          "mark": {"type": "rule", "color": "#555555", "strokeWidth": 13, "strokeDash": [64, 30], "clip": true},
          "encoding": {"x": {"field": "a", "type": "quantitative"}, "y": {"field": "p", "type": "quantitative"}, "x2": {"field": "a2"}, "y2": {"field": "p2"}}
        },
        {
          "data": {"name": "fs"},
          "mark": {"type": "circle", "size": 1650, "fill": "#1f8ac4", "opacity": 0.82, "stroke": "white", "strokeWidth": 2, "clip": true},
          "encoding": {"x": {"field": "a", "type": "quantitative"}, "y": {"field": "p", "type": "quantitative"}}
        },
        {
          "data": {"values": [{"s": "R² = 0.976"}, {"s": "RMSE = 0.898"}, {"s": "MAE  = 0.682"}]},
          "mark": {"type": "point", "opacity": 0},
          "encoding": {"color": {"field": "s", "type": "nominal", "scale": {"domain": ["R² = 0.976", "RMSE = 0.898", "MAE  = 0.682"], "range": ["black", "black", "black"]}, "legend": {"title": null, "labelExpr": "replace(datum.label, '  ', '\u00a0 ')"}}}
        }
      ]
    },
    {
      "width": 1358,
      "height": 1360,
      "layer": [
        {
          "data": {"values": [{"a": -24.2, "lo": -19.36, "hi": -29.04}, {"a": 187.6, "lo": 150.08, "hi": 225.12}]},
          "mark": {"type": "area", "fill": "#e4e4ee", "opacity": 0.35, "clip": true},
          "encoding": {
            "x": {"field": "a", "type": "quantitative", "scale": {"domain": [-24.2, 187.6], "nice": false, "zero": false}, "axis": {"values": [0, 50, 100, 150], "title": "Yield stress (Pa)"}},
            "y": {"field": "lo", "type": "quantitative", "scale": {"domain": [-24.2, 187.6], "nice": false, "zero": false}, "axis": {"values": [0, 50, 100, 150], "title": "Predicted (Pa)"}},
            "y2": {"field": "hi"}
          }
        },
        {
          "data": {"values": [{"a": -24.2, "p": -29.04, "a2": 187.6, "p2": 225.12}, {"a": -24.2, "p": -19.36, "a2": 187.6, "p2": 150.08}]},
          "mark": {"type": "rule", "color": "#8a8a8a", "strokeWidth": 12, "strokeDash": [12, 27], "clip": true},
          "encoding": {"x": {"field": "a", "type": "quantitative"}, "y": {"field": "p", "type": "quantitative"}, "x2": {"field": "a2"}, "y2": {"field": "p2"}}
        },
        {
          "data": {"values": [{"a": -24.2, "p": -24.2, "a2": 187.6, "p2": 187.6}]},
          "mark": {"type": "rule", "color": "#555555", "strokeWidth": 13, "strokeDash": [64, 30], "clip": true},
          "encoding": {"x": {"field": "a", "type": "quantitative"}, "y": {"field": "p", "type": "quantitative"}, "x2": {"field": "a2"}, "y2": {"field": "p2"}}
        },
        {
          "data": {"name": "ys"},
          "mark": {"type": "circle", "size": 1650, "fill": "#00b47a", "opacity": 0.85, "stroke": "white", "strokeWidth": 2, "clip": true},
          "encoding": {"x": {"field": "a", "type": "quantitative"}, "y": {"field": "p", "type": "quantitative"}}
        },
        {
          "data": {"values": [{"s": "R² = 0.968"}, {"s": "RMSE = 4.878"}, {"s": "MAE  = 3.586"}]},
          "mark": {"type": "point", "opacity": 0},
          "encoding": {"color": {"field": "s", "type": "nominal", "scale": {"domain": ["R² = 0.968", "RMSE = 4.878", "MAE  = 3.586"], "range": ["black", "black", "black"]}, "legend": {"title": null, "labelExpr": "replace(datum.label, '  ', '\u00a0 ')"}}}
        }
      ]
    },
    {
      "width": 1358,
      "height": 1360,
      "layer": [
        {
          "data": {"values": [{"a": -21.3, "lo": -17.04, "hi": -25.56}, {"a": 100.6, "lo": 80.48, "hi": 120.72}]},
          "mark": {"type": "area", "fill": "#e4e4ee", "opacity": 0.35, "clip": true},
          "encoding": {
            "x": {"field": "a", "type": "quantitative", "scale": {"domain": [-21.3, 100.6], "nice": false, "zero": false}, "axis": {"values": [0, 25, 50, 75, 100], "title": "Plastic viscosity (Pa·s)"}},
            "y": {"field": "lo", "type": "quantitative", "scale": {"domain": [-21.3, 100.6], "nice": false, "zero": false}, "axis": {"values": [-20, 0, 20, 40, 60, 80, 100], "title": "Predicted (Pa·s)"}},
            "y2": {"field": "hi"}
          }
        },
        {
          "data": {"values": [{"a": -21.3, "p": -25.56, "a2": 100.6, "p2": 120.72}, {"a": -21.3, "p": -17.04, "a2": 100.6, "p2": 80.48}]},
          "mark": {"type": "rule", "color": "#8a8a8a", "strokeWidth": 12, "strokeDash": [12, 27], "clip": true},
          "encoding": {"x": {"field": "a", "type": "quantitative"}, "y": {"field": "p", "type": "quantitative"}, "x2": {"field": "a2"}, "y2": {"field": "p2"}}
        },
        {
          "data": {"values": [{"a": -21.3, "p": -21.3, "a2": 100.6, "p2": 100.6}]},
          "mark": {"type": "rule", "color": "#555555", "strokeWidth": 13, "strokeDash": [64, 30], "clip": true},
          "encoding": {"x": {"field": "a", "type": "quantitative"}, "y": {"field": "p", "type": "quantitative"}, "x2": {"field": "a2"}, "y2": {"field": "p2"}}
        },
        {
          "data": {"name": "pv"},
          "mark": {"type": "circle", "size": 1650, "fill": "#2468e0", "opacity": 0.85, "stroke": "white", "strokeWidth": 2, "clip": true},
          "encoding": {"x": {"field": "a", "type": "quantitative"}, "y": {"field": "p", "type": "quantitative"}}
        },
        {
          "data": {"values": [{"s": "R² = 0.958"}, {"s": "RMSE = 3.066"}, {"s": "MAE  = 2.020"}]},
          "mark": {"type": "point", "opacity": 0},
          "encoding": {"color": {"field": "s", "type": "nominal", "scale": {"domain": ["R² = 0.958", "RMSE = 3.066", "MAE  = 2.020"], "range": ["black", "black", "black"]}, "legend": {"title": null, "labelExpr": "replace(datum.label, '  ', '\u00a0 ')"}}}
        }
      ]
    }
  ],
  "config": {
    "font": "Liberation Serif",
    "view": {"stroke": "black", "strokeWidth": 11},
    "axis": {
      "domain": false,
      "grid": true,
      "gridColor": "#ececec",
      "gridWidth": 5,
      "ticks": true,
      "tickColor": "black",
      "tickWidth": 10,
      "tickSize": -37,
      "labelFont": "Liberation Serif",
      "labelFontSize": 84,
      "labelColor": "black",
      "labelFlush": false,
      "labelOverlap": false,
      "titleFont": "Liberation Serif",
      "titleFontSize": 100,
      "titleFontWeight": "normal",
      "titleColor": "black"
    },
    "axisX": {"labelPadding": 57, "titlePadding": 25},
    "axisY": {"labelPadding": 67, "titlePadding": 38},
    "legend": {
      "orient": "top-left",
      "offset": 48,
      "padding": 20,
      "fillColor": "white",
      "strokeColor": "#333333",
      "strokeWidth": 4,
      "cornerRadius": 14,
      "labelFont": "Liberation Serif",
      "labelFontSize": 82,
      "labelColor": "black",
      "labelLimit": 2000,
      "labelOffset": -78,
      "symbolSize": 0,
      "symbolOpacity": 0,
      "symbolStrokeWidth": 0,
      "rowPadding": 4
    }
  }
}
